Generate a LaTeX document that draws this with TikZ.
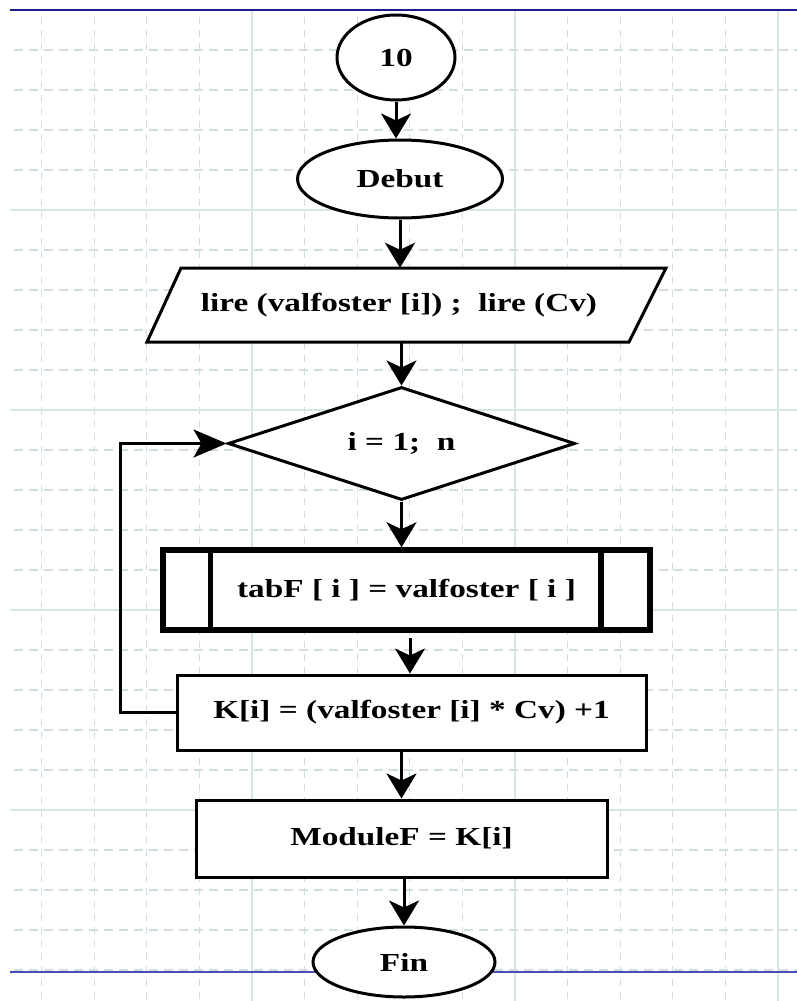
\documentclass[tikz,border=0pt]{standalone}
\usepackage{fontspec}
\setmainfont{Liberation Serif}
\usetikzlibrary{shapes.geometric,arrows.meta,calc}

% horizontally widened label text
\newcommand\wide[1]{\scalebox{1.28}[1]{#1}}

\definecolor{gridminor}{HTML}{D0DEDE}
\definecolor{gridmajor}{HTML}{D8E5E5}
\definecolor{topblue}{HTML}{1C1C8A}
\definecolor{pageblue}{HTML}{4A4AB8}

\begin{document}
\begin{tikzpicture}[x=1pt,y=-1pt,
  every node/.style={font=\bfseries\fontsize{26}{30}\selectfont, inner sep=0pt, align=center},
  box/.style={draw, line width=3pt, fill=white},
  term/.style={box, ellipse},
  flow/.style={line width=3pt, -{Stealth[length=25pt,width=30pt,inset=7pt]}},
  backflow/.style={line width=3pt, -{Stealth[length=33pt,width=28pt,inset=8pt]}},
  minorv/.style={gridminor, line width=1.3pt, dash pattern=on 7pt off 6pt},
  minorh/.style={gridminor, line width=1.3pt, dash pattern=on 9pt off 6pt},
  major/.style={gridmajor, line width=1.5pt}]

\useasboundingbox (0,0) rectangle (797,1001);
\fill[white] (0,0) rectangle (797,1001);

% background grid
\foreach \i in {0,...,14}
  \draw[minorv] ({41.6+52.6*\i},17) -- ({41.6+52.6*\i},1001);
\foreach \y in {50,90,...,970}
  \draw[minorh] (14,\y) -- (797,\y);
\foreach \x in {252,515,778}
  \draw[major] (\x,10) -- (\x,1001);
\foreach \y in {210,410,610,810}
  \draw[major] (10,\y) -- (797,\y);

% page rules
\draw[topblue, line width=2.5pt] (10,10) -- (797,10);
\draw[pageblue, line width=2.5pt] (10,972) -- (797,972);

% flowchart blocks
\node[term, minimum width=118pt, minimum height=85pt] (c10) at (396,57.5) {\wide{10}};
\node[term, minimum width=205pt, minimum height=78pt] (deb) at (400,179) {\wide{Debut}};

\coordinate (ioc) at (399,305);
\draw[box] ($(ioc)+(-252,37)$) -- ($(ioc)+(230,37)$) -- ($(ioc)+(267,-37)$) -- ($(ioc)+(-218,-37)$) -- cycle;
\node[minimum width=440pt, minimum height=74pt] (io) at (ioc) {\wide{lire (valfoster [i]) ;\ \ lire (Cv)}};

\node[box, diamond, aspect=3, minimum width=347pt, minimum height=113pt] (dec) at (401.5,443.5) {\wide{i = 1;\ \ n}};

\node[box, line width=5.5pt, minimum width=487pt, minimum height=80pt] (sub) at (406.5,590) {\wide{tabF [ i ] = valfoster [ i ]}};
\draw[line width=5.5pt] ([xshift=50pt]sub.north west) -- ([xshift=50pt]sub.south west);
\draw[line width=5.5pt] ([xshift=-52pt]sub.north east) -- ([xshift=-52pt]sub.south east);

\node[box, minimum width=469pt, minimum height=75pt] (K) at (411.5,712.5) {\wide{K[i] = (valfoster [i] * Cv) +1}};
\node[box, minimum width=411pt, minimum height=77pt] (mod) at (401.5,838.5) {\wide{ModuleF = K[i]}};
\node[term, minimum width=182pt, minimum height=70pt] (fin) at (404,962) {\wide{Fin}};

% connectors
\draw[flow] (c10.south) -- (c10.south |- deb.north);
\draw[flow] (deb.south) -- (deb.south |- io.north);
\draw[flow] (dec.north |- io.south) -- (dec.north);
\draw[flow] (dec.south) -- (dec.south |- sub.north);
\coordinate (kin) at (410,638);
\draw[flow] (kin) -- (kin |- K.north);
\draw[flow] (K.south -| mod.north) -- (mod.north);
\draw[flow] (mod.south -| fin.north) -- (fin.north);
\coordinate (loopx) at (120,0);
\draw[backflow] (K.west) -- (K.west -| loopx) |- (dec.west);

\end{tikzpicture}
\end{document}
